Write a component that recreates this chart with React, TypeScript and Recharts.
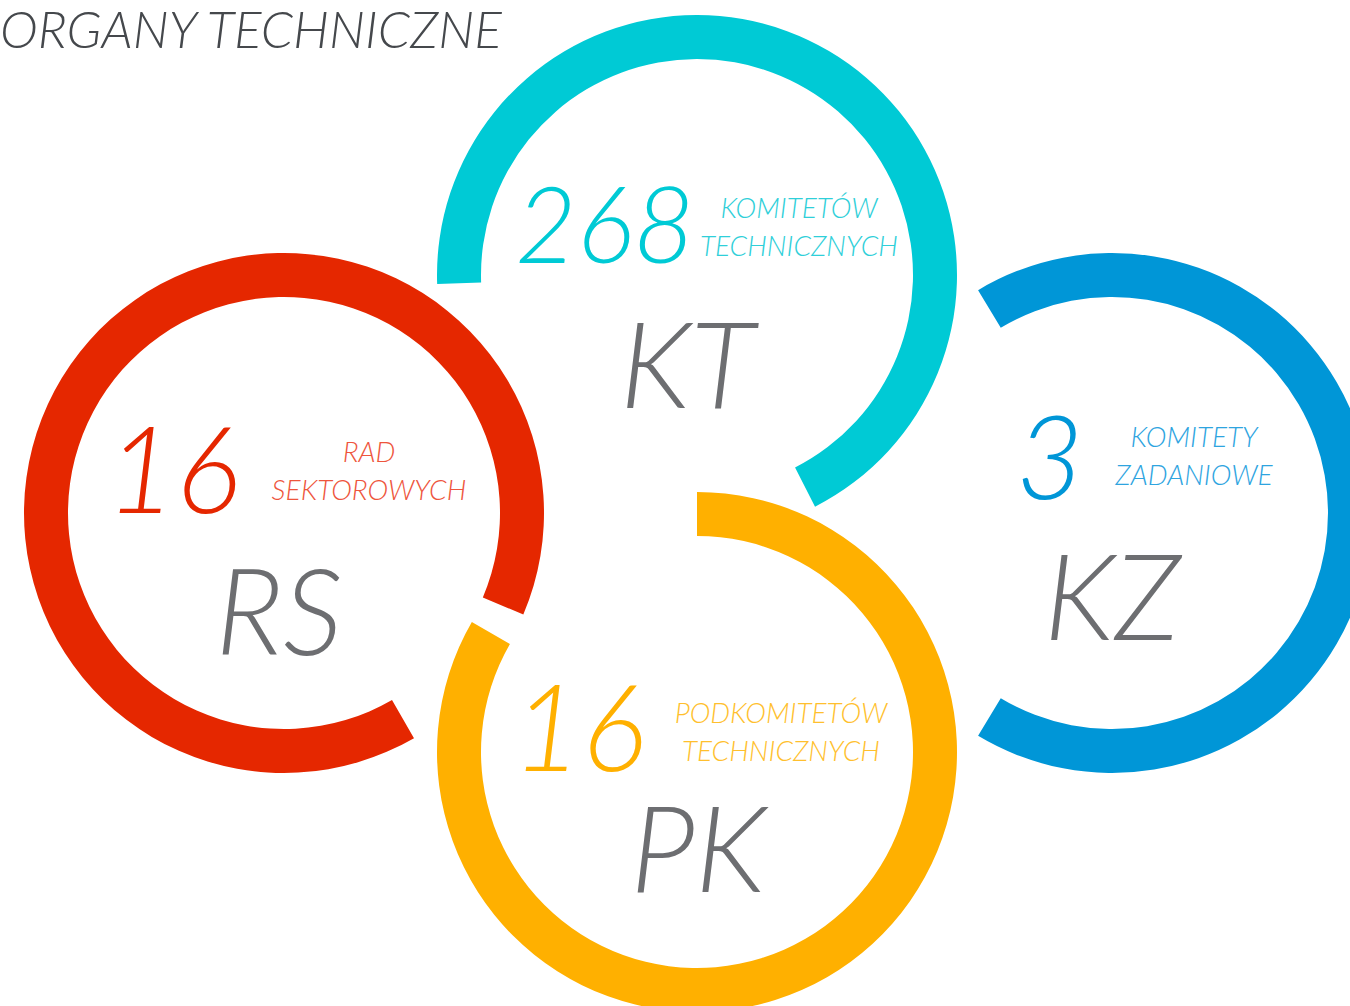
import React from "react"
import { PieChart, Pie, Cell } from "recharts"

// dane: organy techniczne
const codes = ["KT", "RS", "KZ", "PK"]
const counts = [268, 16, 3, 16]
const descTop = ["KOMITETÓW", "RAD", "KOMITETY", "PODKOMITETÓW"]
const descBottom = ["TECHNICZNYCH", "SEKTOROWYCH", "ZADANIOWE", "TECHNICZNYCH"]

const ringColors = ["#00CAD5", "#E52700", "#0096D7", "#FFB000"]
const labelColors = ["#2FCFD9", "#EE553C", "#2EA4DF", "#FFBF2E"]

// położenie pierścieni i napisów (px)
const layout = [
  { cx: 697, cy: 275, start: -63, end: 182, numX: 605, numY: 263, numSize: 106, descX: 799, descY: 218, codeX: 687, codeY: 408 },
  { cx: 284, cy: 513, start: -23, end: 300, numX: 173, numY: 513, numSize: 120, descX: 369, descY: 462, codeX: 279, codeY: 655 },
  { cx: 1112, cy: 513, start: -121, end: 121, numX: 1050, numY: 499, numSize: 117, descX: 1194, descY: 447, codeX: 1112, codeY: 640 },
  { cx: 697, cy: 752, start: 150, end: 450, numX: 579, numY: 771, numSize: 120, descX: 781, descY: 723, codeX: 698, codeY: 892 },
]

const font = "Lato, 'Noto Sans', sans-serif"

export default function App() {
  return (
    <div style={{ width: 1350, height: 1006, position: "relative" }}>
      <style>{`body { margin: 0; background: #fff; }`}</style>
      <PieChart width={1350} height={1006} margin={{ top: 0, right: 0, bottom: 0, left: 0 }}>
        {codes.map((code, i) => (
          <Pie
            key={code}
            data={[{ name: code, value: counts[i] }]}
            dataKey="value"
            cx={layout[i].cx}
            cy={layout[i].cy}
            innerRadius={216}
            outerRadius={260}
            startAngle={layout[i].start}
            endAngle={layout[i].end}
            stroke="none"
            isAnimationActive={false}
          >
            <Cell fill={ringColors[i]} />
          </Pie>
        ))}
        <text x={0} y={48} fontFamily={font} fontWeight={300} fontStyle="italic" fontSize={51.3} fill="#45484C">
          ORGANY TECHNICZNE
        </text>
        {codes.map((code, i) => {
          const l = layout[i]
          return (
            <g key={"t" + code} fontFamily={font} fontWeight={300} fontStyle="italic">
              <text x={l.numX} y={l.numY} textAnchor="middle" fontSize={l.numSize} fill={ringColors[i]}>
                {counts[i]}
              </text>
              <text x={l.descX} y={l.descY} textAnchor="middle" fontSize={28} fill={labelColors[i]}>
                {descTop[i]}
              </text>
              <text x={l.descX} y={l.descY + 38} textAnchor="middle" fontSize={28} fill={labelColors[i]}>
                {descBottom[i]}
              </text>
              <text x={l.codeX} y={l.codeY} textAnchor="middle" fontSize={120} fill="#6D6E71">
                {code}
              </text>
            </g>
          )
        })}
      </PieChart>
    </div>
  )
}
